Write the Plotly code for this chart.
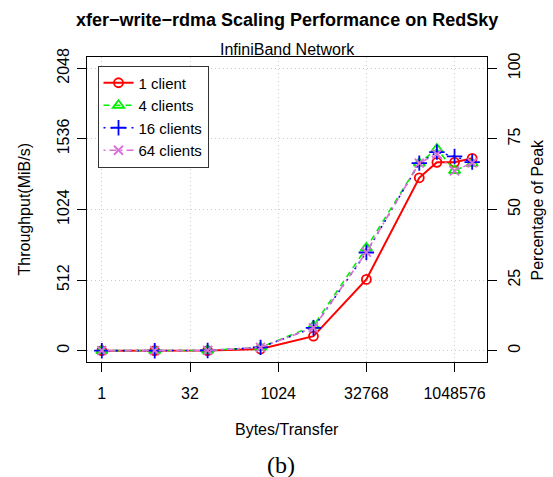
import plotly.graph_objects as go
import math

# ---- data ----
sizes = [1, 8, 64, 512, 4096, 32768, 262144, 524288, 1048576, 2097152]
client1 = [0, 0, 1, 12, 105, 517, 1254, 1366, 1366, 1395]
client4 = [0, 0, 2, 24, 180, 745, 1360, 1463, 1307, 1358]
client16 = [0, 0, 2, 24, 166, 712, 1360, 1440, 1409, 1368]
client64 = [0, 0, 2, 24, 166, 715, 1360, 1426, 1304, 1362]
series_names = ["1 client", "4 clients", "16 clients", "64 clients"]
x_ticks = [1, 32, 1024, 32768, 1048576]
y_ticks = [0, 512, 1024, 1536, 2048]
pct_ticks = [0, 25, 50, 75, 100]
PEAK = 2048

W, H = 553, 477
L, R, T, B = 87, 66, 57, 115
PW, PH = W - L - R, H - T - B

def xp(px):
    return (px - L) / PW

def yp(py):
    return (H - B - py) / PH

FONT = "Liberation Sans, Arial, sans-serif"
styles = [
    dict(color="#FF0000", symbol="circle-open", dash="solid", width=2, size=9),
    dict(color="#00EE00", symbol="triangle-up-open", dash="6px,5px", width=1.6, size=10),
    dict(color="#0000FF", symbol="cross-thin-open", dash="2px,5px", width=1.6, size=11),
    dict(color="#DA70D6", symbol="x-thin-open", dash="2px,4px,7px,4px", width=1.6, size=9),
]

fig = go.Figure()
for name, vals, st in zip(series_names, [client1, client4, client16, client64], styles):
    fig.add_trace(go.Scatter(
        x=sizes, y=vals, name=name, mode="lines+markers",
        line=dict(color=st["color"], width=st["width"], dash=st["dash"]),
        marker=dict(symbol=st["symbol"], size=st["size"], color=st["color"],
                    line=dict(color=st["color"], width=1.8)),
    ))
# carrier for the right-hand percentage axis
fig.add_trace(go.Scatter(x=[], y=[], yaxis="y2", showlegend=False, hoverinfo="skip"))

log2 = math.log10(2)
ymin, ymax = -0.04 * PEAK, 1.04 * PEAK
GRID = dict(showgrid=True, gridcolor="#CCCCCC", griddash="1px,3px", gridwidth=1)

fig.update_layout(
    width=W, height=H, autosize=False,
    margin=dict(l=L, r=R, t=T, b=B, pad=0),
    paper_bgcolor="white", plot_bgcolor="white",
    font=dict(family=FONT, size=16, color="black"),
    showlegend=True,
    legend=dict(
        x=xp(97.5), y=yp(65.5), xanchor="left", yanchor="top",
        bordercolor="#333333", borderwidth=1, bgcolor="white",
        font=dict(family=FONT, size=15), itemwidth=30, tracegroupgap=0,
    ),
    xaxis=dict(
        type="log", range=[-0.84 * log2, 21.84 * log2],
        tickvals=x_ticks, ticktext=[str(v) for v in x_ticks],
        ticks="outside", ticklen=9, tickcolor="black", tickwidth=1,
        ticklabelstandoff=8,
        showline=True, linecolor="black", linewidth=1, mirror=True,
        zeroline=False, tickfont=dict(size=16), **GRID,
    ),
    yaxis=dict(
        range=[ymin, ymax], tickvals=y_ticks, ticktext=[str(v) for v in y_ticks],
        ticks="outside", ticklen=9, tickcolor="black", tickwidth=1, tickangle=-90,
        ticklabelstandoff=2,
        showline=True, linecolor="black", linewidth=1, mirror=True,
        zeroline=False, tickfont=dict(size=16), **GRID,
    ),
    yaxis2=dict(
        overlaying="y", side="right", range=[ymin / PEAK * 100, ymax / PEAK * 100],
        tickvals=pct_ticks, ticktext=[str(v) for v in pct_ticks],
        ticks="outside", ticklen=9, tickcolor="black", tickwidth=1, tickangle=-90,
        ticklabelstandoff=4,
        showgrid=False, zeroline=False, showline=False, tickfont=dict(size=16),
    ),
    annotations=[
        dict(text="<b>xfer\u2212write\u2212rdma Scaling Performance on RedSky</b>",
             x=0.5, y=yp(20), xref="paper", yref="paper", showarrow=False,
             xanchor="center", yanchor="middle", font=dict(size=18)),
        dict(text="InfiniBand Network", x=0.5, y=yp(49), xref="paper", yref="paper",
             showarrow=False, xanchor="center", yanchor="middle", font=dict(size=16)),
        dict(text="Bytes/Transfer", x=0.5, y=yp(430), xref="paper", yref="paper",
             showarrow=False, xanchor="center", yanchor="middle", font=dict(size=16)),
        dict(text="Throughput(MiB/s)", x=xp(24), y=0.5, xref="paper", yref="paper",
             showarrow=False, xanchor="center", yanchor="middle", textangle=-90,
             font=dict(size=16)),
        dict(text="Percentage of Peak", x=xp(537), y=0.5, xref="paper", yref="paper",
             showarrow=False, xanchor="center", yanchor="middle", textangle=-90,
             font=dict(size=16)),
        dict(text="(b)", x=xp(281), y=yp(465), xref="paper", yref="paper",
             showarrow=False, xanchor="center", yanchor="middle",
             font=dict(size=24, family="Liberation Serif, Times New Roman, serif")),
    ],
)

fig.write_html("out.html")
